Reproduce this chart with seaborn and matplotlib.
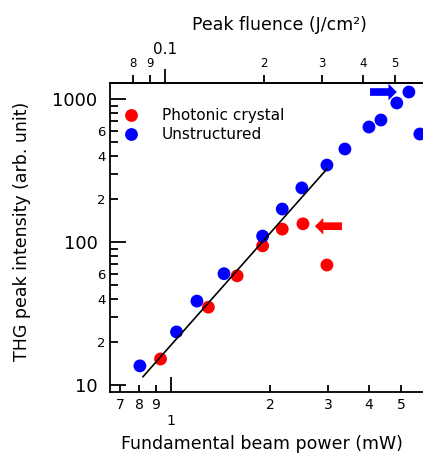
import matplotlib
matplotlib.use("Agg")
import numpy as np
import pandas as pd
import matplotlib.pyplot as plt
import seaborn as sns
from matplotlib.ticker import FixedLocator, FuncFormatter

# valores
power_pc = [0.93, 1.30, 1.59, 1.90, 2.18, 2.52, 2.98]
thg_pc = [15.2, 35, 58, 94, 123, 134, 69]
power_un = [0.805, 1.04, 1.20, 1.45, 1.90, 2.18, 2.50, 2.98, 3.38, 4.00, 4.35, 4.86, 5.29, 5.71]
thg_un = [13.6, 23.5, 38.6, 60, 110, 170, 239, 345, 447, 637, 713, 938, 1119, 569]
fit_power = [0.822, 2.98]
fit_thg = [11.4, 324]
series = ["Photonic crystal", "Unstructured"]
colores = {"Photonic crystal": "#ff0000", "Unstructured": "#0000ff"}
fluence_per_mw = 0.104  # J/cm2 por mW

df = pd.concat([
    pd.DataFrame({"power": power_pc, "thg": thg_pc, "sample": series[0]}),
    pd.DataFrame({"power": power_un, "thg": thg_un, "sample": series[1]}),
])

sns.set_style("ticks")
plt.rcParams["font.family"] = ["DejaVu Sans"]
plt.rcParams.update({"text.color": "black", "axes.labelcolor": "black",
                     "xtick.color": "black", "ytick.color": "black",
                     "axes.edgecolor": "black"})

fig = plt.figure(figsize=(4.23, 4.55), dpi=100)
ax = fig.add_axes([110 / 423, 63 / 455, 329 / 423, 309 / 455])

sns.scatterplot(data=df, x="power", y="thg", hue="sample", palette=colores,
                s=85, linewidth=0, ax=ax, zorder=2)
ax.plot(fit_power, fit_thg, color="black", lw=1.2, zorder=3)

ax.set_xscale("log")
ax.set_yscale("log")
ax.set_xlim(0.653, 6.53)
ax.set_ylim(8.93, 1294)

# flechas
flecha = "simple,head_length=0.6,head_width=1.2,tail_width=0.55"
ax.annotate("", xy=(2.74, 129), xytext=(3.31, 129),
            arrowprops=dict(arrowstyle=flecha, color="#ff0000", lw=0,
                            shrinkA=0, shrinkB=0, mutation_scale=10))
ax.annotate("", xy=(4.86, 1119), xytext=(4.03, 1119),
            arrowprops=dict(arrowstyle=flecha, color="#0000ff", lw=0,
                            shrinkA=0, shrinkB=0, mutation_scale=10))

def digito(v, pos):
    return f"{v / 10 ** np.floor(np.log10(v) + 1e-9):.0f}"

def digito_y(v, pos):
    d = round(v / 10 ** np.floor(np.log10(v) + 1e-9))
    return str(d) if d in (2, 4, 6) else ""

# eje x inferior
ax.xaxis.set_major_locator(FixedLocator([1]))
ax.xaxis.set_major_formatter(FuncFormatter(lambda v, p: "1"))
ax.xaxis.set_minor_locator(FixedLocator([0.7, 0.8, 0.9, 2, 3, 4, 5]))
ax.xaxis.set_minor_formatter(FuncFormatter(digito))
ax.tick_params(axis="x", which="major", direction="in", length=11, width=1.3,
               labelsize=10, pad=16, top=False)
ax.tick_params(axis="x", which="minor", direction="in", length=5, width=1.3,
               labelsize=10, pad=4, top=False)

# eje y
ax.yaxis.set_major_locator(FixedLocator([10, 100, 1000]))
ax.yaxis.set_major_formatter(FuncFormatter(lambda v, p: f"{v:.0f}"))
ax.yaxis.set_minor_locator(FixedLocator([k * 10 ** e for e in (1, 2) for k in range(2, 10)]))
ax.yaxis.set_minor_formatter(FuncFormatter(digito_y))
ax.tick_params(axis="y", which="major", direction="in", length=11.5, width=1.3,
               labelsize=13, pad=9)
ax.tick_params(axis="y", which="minor", direction="in", length=6, width=1.3,
               labelsize=9.5, pad=3)

for s in ax.spines.values():
    s.set_linewidth(1.3)
    s.set_color("black")

# eje superior: fluencia
secax = ax.secondary_xaxis("top", functions=(lambda p: p * fluence_per_mw,
                                             lambda f: f / fluence_per_mw))
secax.xaxis.set_major_locator(FixedLocator([0.1]))
secax.xaxis.set_major_formatter(FuncFormatter(lambda v, p: "0.1"))
secax.xaxis.set_minor_locator(FixedLocator([0.08, 0.09, 0.2, 0.3, 0.4, 0.5]))
secax.xaxis.set_minor_formatter(FuncFormatter(digito))
secax.tick_params(axis="x", which="major", direction="out", length=10, width=1.3,
                  labelsize=11, pad=9)
secax.tick_params(axis="x", which="minor", direction="out", length=5.5, width=1.3,
                  labelsize=8.5, pad=3.5)
secax.spines["top"].set_linewidth(1.3)
secax.spines["top"].set_color("black")

ax.set_xlabel("Fundamental beam power (mW)", fontsize=12.5, va="baseline")
ax.xaxis.set_label_coords(0.462, -0.1845)
secax.set_xlabel("Peak fluence (J/cm²)", fontsize=12.5, va="baseline")
secax.xaxis.set_label_coords(0.514, 1.173, transform=ax.transAxes)
ax.set_ylabel("THG peak intensity (arb. unit)", fontsize=12.5, va="baseline")
ax.yaxis.set_label_coords(-0.253, 0.519)

ax.legend(loc="upper left", bbox_to_anchor=(0.041, 0.9175), frameon=False,
          fontsize=11, handlelength=1, handletextpad=1.5, labelspacing=0.25,
          borderpad=0, borderaxespad=0)

fig.savefig("out.png", dpi=100)
